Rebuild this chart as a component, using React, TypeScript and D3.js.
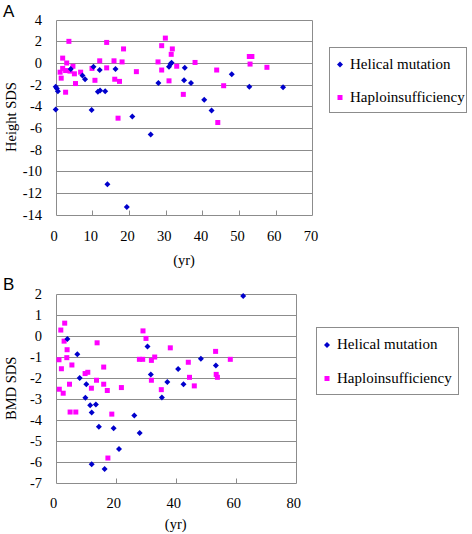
import React from "react";
import * as d3 from "d3";

// ---------- Panel A: Height SDS ----------
const heightHelicalAge = [0.0, 0.3, 0.6, 0.0, 4.1, 7.3, 8.0, 10.3, 12.0, 11.5, 12.1, 13.5, 9.8, 16.3, 20.9, 25.9, 28.0, 30.9, 31.3, 31.6, 35.2, 35.0, 36.9, 40.5, 42.5, 48.0, 52.8, 62.0, 14.1, 19.4];
const heightHelicalSDS = [-2.2, -2.35, -2.6, -4.3, -0.55, -1.15, -1.5, -0.35, -0.65, -2.65, -2.55, -2.6, -4.35, -0.55, -4.95, -6.6, -1.85, -0.35, -0.1, 0.03, -0.45, -1.6, -1.85, -3.4, -4.4, -1.05, -2.2, -2.25, -11.2, -13.3];
const heightHaploAge = [3.6, 13.9, 29.9, 28.9, 31.8, 31.5, 18.5, 1.9, 3.0, 4.7, 1.9, 1.2, 2.7, 3.9, 5.1, 1.5, 2.7, 5.4, 6.8, 9.9, 10.7, 12.0, 13.9, 15.9, 18.1, 16.1, 17.4, 17.0, 22.0, 27.9, 28.9, 30.9, 33.0, 34.8, 38.0, 43.9, 45.8, 44.2, 52.8, 53.5, 53.0, 57.6];
const heightHaploSDS = [2.0, 1.9, 2.3, 1.6, 1.3, 0.8, 1.3, 0.45, 0.0, -0.3, -0.5, -0.85, -0.7, -0.75, -1.0, -1.4, -2.7, -1.9, -0.85, -0.5, -1.6, 0.2, -0.45, 0.2, 0.1, -1.5, -1.7, -5.1, -0.8, 0.1, -0.65, -1.65, -0.3, -2.9, 0.05, -0.65, -2.1, -5.5, 0.6, 0.6, -0.1, -0.4];
const heightYTicks = [4, 2, 0, -2, -4, -6, -8, -10, -12, -14];
const heightXTicks = [0, 10, 20, 30, 40, 50, 60, 70];

// ---------- Panel B: BMD SDS ----------
const bmdHelicalAge = [62.5, 3.9, 7.2, 8.0, 10.2, 9.9, 11.5, 13.4, 12.0, 14.4, 19.3, 21.1, 12.0, 16.3, 26.2, 28.0, 30.6, 31.7, 37.2, 35.4, 40.8, 42.6, 48.4, 53.4];
const bmdHelicalSDS = [1.92, -0.14, -0.87, -2.0, -2.3, -2.95, -3.3, -3.27, -3.65, -4.33, -4.4, -5.4, -6.13, -6.35, -3.8, -4.63, -0.5, -1.84, -2.19, -2.94, -1.57, -2.3, -1.08, -1.4];
const bmdHaploAge = [3.0, 1.7, 2.8, 3.8, 3.7, 1.1, 1.9, 5.4, 4.6, 1.2, 2.5, 4.8, 6.7, 13.8, 9.8, 10.7, 16.0, 13.6, 11.9, 16.0, 17.2, 21.9, 18.7, 17.4, 29.1, 30.1, 27.9, 29.0, 31.9, 33.0, 38.2, 31.9, 35.2, 44.2, 44.6, 46.2, 53.3, 53.5, 53.9, 58.2];
const bmdHaploSDS = [0.62, 0.29, -0.24, -0.65, -1.03, -1.13, -1.56, -1.38, -2.3, -2.54, -2.73, -3.63, -3.63, -0.32, -1.79, -1.73, -1.48, -2.11, -2.49, -2.3, -2.6, -2.46, -3.73, -5.83, 0.25, -0.11, -1.11, -1.11, -1.16, -1.0, -0.56, -2.11, -2.56, -1.25, -1.97, -2.38, -0.73, -1.83, -1.97, -1.11];
const bmdYTicks = [2, 1, 0, -1, -2, -3, -4, -5, -6, -7];
const bmdXTicks = [0, 20, 40, 60, 80];

const seriesNames = ["Helical mutation", "Haploinsufficiency"];

const BLUE = "#0000CC";
const MAGENTA = "#FF00FF";
const GRID = "#8c8c8c";
const SERIF = "'Liberation Serif', 'Times New Roman', serif";
const SANS = "'Liberation Sans', Arial, sans-serif";

const px = (v: number) => Math.round(v) + 0.5;

function Diamond({ x, y }: { x: number; y: number }) {
  const r = 3;
  return <path d={`M${x},${y - r}L${x + r},${y}L${x},${y + r}L${x - r},${y}Z`} fill={BLUE} />;
}
function Square({ x, y }: { x: number; y: number }) {
  const s = 5;
  return <rect x={x - s / 2} y={y - s / 2} width={s} height={s} fill={MAGENTA} />;
}

type PanelProps = {
  letter: string;
  letterY: number;
  yLabel: string;
  xDomain: [number, number];
  yDomain: [number, number];
  xRange: [number, number];
  yRange: [number, number];
  xTicks: number[];
  yTicks: number[];
  helAge: number[];
  helSDS: number[];
  hapAge: number[];
  hapSDS: number[];
  xLabelY: number;
  yrY: number;
  legend: { x: number; y: number; w: number; h: number; tx: number; mx: number; r1: number; r2: number };
  xLabelShift: number;
};

function Panel(p: PanelProps) {
  const x = d3.scaleLinear().domain(p.xDomain).range(p.xRange);
  const y = d3.scaleLinear().domain(p.yDomain).range(p.yRange);
  const left = px(p.xRange[0]);
  const right = px(p.xRange[1]);
  const bottom = px(p.yRange[0]);
  const top = px(p.yRange[1]);
  const L = p.legend;
  return (
    <g>
      <text x={3} y={p.letterY} fontFamily={SANS} fontSize={17} fill="#000">{p.letter}</text>
      {p.yTicks.map((t) => (
        <line key={"g" + t} x1={left} x2={right} y1={px(y(t))} y2={px(y(t))} stroke={GRID} strokeWidth={1} />
      ))}
      <line x1={left} x2={left} y1={top} y2={bottom} stroke={GRID} strokeWidth={1} />
      <line x1={right} x2={right} y1={top} y2={bottom} stroke={GRID} strokeWidth={1} />
      {p.xTicks.slice(1, -1).map((t) => (
        <line key={"t" + t} x1={px(x(t))} x2={px(x(t))} y1={bottom} y2={bottom - 5} stroke={GRID} strokeWidth={1} />
      ))}
      {p.yTicks.map((t) => (
        <text key={"yl" + t} x={42} y={y(t) + 5} textAnchor="end" fontFamily={SERIF} fontSize={14.5} fill="#000">
          {t < 0 ? "-" + Math.abs(t) : String(t)}
        </text>
      ))}
      {p.xTicks.map((t) => (
        <text key={"xl" + t} x={x(t) + p.xLabelShift} y={p.xLabelY} textAnchor="middle" fontFamily={SERIF} fontSize={14.5} fill="#000">
          {t}
        </text>
      ))}
      <text x={(p.xRange[0] + p.xRange[1]) / 2} y={p.yrY} textAnchor="middle" fontFamily={SERIF} fontSize={14.5} fill="#000">(yr)</text>
      <text
        transform={`translate(16,${(p.yRange[0] + p.yRange[1]) / 2}) rotate(-90)`}
        textAnchor="middle"
        fontFamily={SERIF}
        fontSize={14.5}
        fill="#000"
      >
        {p.yLabel}
      </text>
      {p.hapAge.map((a, i) => (
        <Square key={"h" + i} x={x(a)} y={y(p.hapSDS[i])} />
      ))}
      {p.helAge.map((a, i) => (
        <Diamond key={"d" + i} x={x(a)} y={y(p.helSDS[i])} />
      ))}
      <rect x={px(L.x)} y={px(L.y)} width={L.w} height={L.h} fill="#fff" stroke={GRID} strokeWidth={1} />
      <Diamond x={L.mx} y={L.r1 - 4} />
      <Square x={L.mx} y={L.r2 - 4} />
      <text x={L.tx} y={L.r1} fontFamily={SERIF} fontSize={15} fill="#000">{seriesNames[0]}</text>
      <text x={L.tx} y={L.r2} fontFamily={SERIF} fontSize={15} fill="#000">{seriesNames[1]}</text>
    </g>
  );
}

export default function App() {
  return (
    <svg width={472} height={534} style={{ position: "absolute", left: 0, top: 0, background: "#fff" }}>
      <rect x={0} y={0} width={472} height={534} fill="#fff" />
      <Panel
        letter="A"
        letterY={16.5}
        yLabel="Height SDS"
        xDomain={[0, 70]}
        yDomain={[-14, 4]}
        xRange={[55.7, 312.4]}
        yRange={[214.5, 19.7]}
        xTicks={heightXTicks}
        yTicks={heightYTicks}
        helAge={heightHelicalAge}
        helSDS={heightHelicalSDS}
        hapAge={heightHaploAge}
        hapSDS={heightHaploSDS}
        xLabelY={240.5}
        yrY={265}
        xLabelShift={-1.5}
        legend={{ x: 329, y: 47, w: 137, h: 65, tx: 350, mx: 340, r1: 68.5, r2: 101.5 }}
      />
      <Panel
        letter="B"
        letterY={290}
        yLabel="BMD SDS"
        xDomain={[0, 80]}
        yDomain={[-7, 2]}
        xRange={[55.7, 295.7]}
        yRange={[482.5, 294.3]}
        xTicks={bmdXTicks}
        yTicks={bmdYTicks}
        helAge={bmdHelicalAge}
        helSDS={bmdHelicalSDS}
        hapAge={bmdHaploAge}
        hapSDS={bmdHaploSDS}
        xLabelY={508}
        yrY={529}
        xLabelShift={-2}
        legend={{ x: 316, y: 327, w: 142, h: 67, tx: 337, mx: 327, r1: 349, r2: 382.5 }}
      />
    </svg>
  );
}
